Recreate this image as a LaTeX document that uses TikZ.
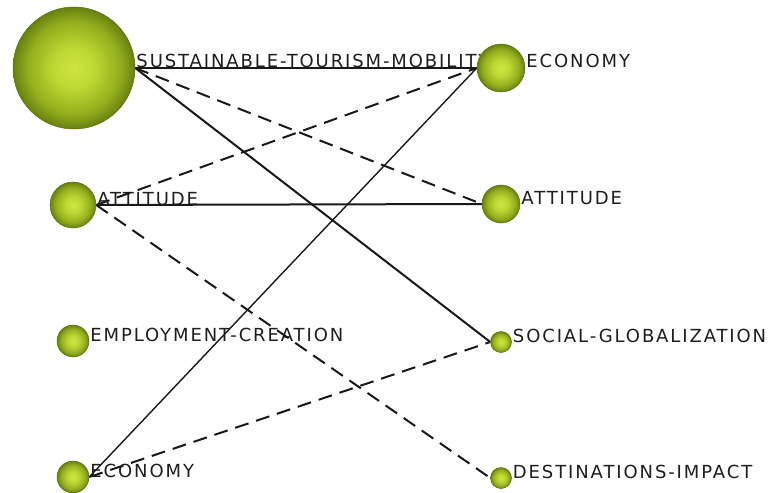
\documentclass[tikz,border=0pt]{standalone}
\usepackage{fontspec}
\newfontfamily\labfont{DejaVu Sans}[LetterSpace=10.5]
\usetikzlibrary{backgrounds}
\definecolor{cA}{RGB}{206,230,66}
\definecolor{cB}{RGB}{188,214,50}
\definecolor{cC}{RGB}{146,174,28}
\definecolor{cD}{RGB}{104,128,16}
\definecolor{rimc}{RGB}{92,112,14}
\definecolor{edgec}{RGB}{25,25,25}
\definecolor{textc}{RGB}{30,30,30}
\pgfdeclareradialshading{ballg}{\pgfpoint{0bp}{0bp}}{color(0bp)=(cA); color(9bp)=(cB); color(19bp)=(cC); color(25bp)=(cD); color(50bp)=(cD)}
\pgfdeclarelayer{lab}
\pgfdeclarelayer{edg}
\pgfsetlayers{lab,edg,main}
\tikzset{
  vnode/.style={circle, inner sep=0pt, shade, shading=ballg, draw=rimc, line width=0.5pt, minimum size=#1},
  vlabel/.style={anchor=base west, inner sep=0pt, xshift=1pt, text=textc, font=\labfont\fontsize{18}{21}\selectfont},
  solidedge/.style={draw=edgec, line width=2pt},
  thinedge/.style={draw=edgec, line width=1.4pt},
  dashedge/.style={draw=edgec, line width=2pt, dash pattern=on 14pt off 8pt}
}
\begin{document}
\begin{tikzpicture}[x=1pt,y=-1pt]
\useasboundingbox (0,0) rectangle (770,492);
% nodes
\node[vnode=122pt] (sust) at (74,68) {};
\node[vnode=46pt] (attL) at (73,205) {};
\node[vnode=32pt] (emp) at (73,341) {};
\node[vnode=32pt] (econL) at (73,477) {};
\node[vnode=48pt] (econR) at (501,68) {};
\node[vnode=38pt] (attR) at (501,204) {};
\node[vnode=21pt] (soc) at (501,342) {};
\node[vnode=21pt] (dest) at (501,478) {};
% labels
\begin{pgfonlayer}{lab}
\node[vlabel] (lsust) at (sust.east) {SUSTAINABLE-TOURISM-MOBILITY};
\node[vlabel] (lattL) at (attL.east) {ATTITUDE};
\node[vlabel] (lemp) at (emp.east) {EMPLOYMENT-CREATION};
\node[vlabel] (lecon) at (econL.east) {ECONOMY};
\node[vlabel] (lecR) at (econR.east) {ECONOMY};
\node[vlabel] (lattR) at (attR.east) {ATTITUDE};
\node[vlabel] (lsoc) at (soc.east) {SOCIAL-GLOBALIZATION};
\node[vlabel] (ldest) at (dest.east) {DESTINATIONS-IMPACT};
\end{pgfonlayer}
% edges
\begin{pgfonlayer}{edg}
\draw[solidedge] (sust.east) -- (econR.west);
\draw[dashedge] (sust.east) -- (attR.west);
\draw[solidedge] (sust.east) -- (soc.west);
\draw[dashedge] (attL.east) -- (econR.west);
\draw[solidedge] (attL.east) -- (attR.west);
\draw[dashedge] (attL.east) -- (dest.west);
\draw[thinedge] (econL.east) -- (econR.west);
\draw[dashedge] (econL.east) -- (soc.west);
\end{pgfonlayer}
\end{tikzpicture}
\end{document}
